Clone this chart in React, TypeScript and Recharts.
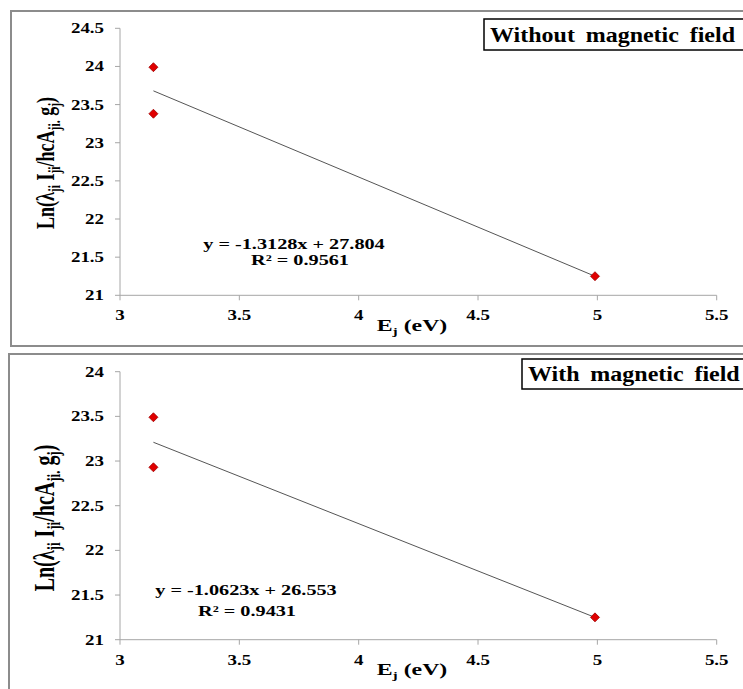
import { ScatterChart, Scatter, XAxis, YAxis } from 'recharts';

const xTicks = [3, 3.5, 4, 4.5, 5, 5.5];
const yTicksTop = [21, 21.5, 22, 22.5, 23, 23.5, 24, 24.5];
const yTicksBottom = [21, 21.5, 22, 22.5, 23, 23.5, 24];

// measured points, E_j (eV) vs Ln(...)
const energyTop = [3.14, 3.14, 4.99];
const lnTop = [23.99, 23.38, 21.25];
const energyBottom = [3.14, 3.14, 4.99];
const lnBottom = [23.49, 22.93, 21.25];

// linear trendline ends
const fitXTop = [3.14, 4.99];
const fitYTop = [23.68, 21.25];
const fitXBottom = [3.14, 4.99];
const fitYBottom = [23.21, 21.25];

const pairs = (xs: number[], ys: number[]) => xs.map((x, i) => ({ x, y: ys[i] }));

const axisColor = '#a6a6a6';
const serif = { fontFamily: "'Liberation Serif', 'Times New Roman', serif", fontWeight: 700 };

const Diamond = (props: any) => {
  const { cx, cy } = props;
  if (cx == null || cy == null) return <g />;
  const r = 4.5;
  return (
    <polygon
      points={`${cx},${cy - r} ${cx + r},${cy} ${cx},${cy + r} ${cx - r},${cy}`}
      fill="#e00000"
      stroke="#a00000"
      strokeWidth={0.8}
    />
  );
};

const YTick = (props: any) => {
  const { x, y, payload } = props;
  return (
    <g transform={`translate(${x},${y})`}>
      <text transform="scale(1.35,1)" textAnchor="end" dy={5} style={serif} fontSize={14} fill="#000">
        {payload.value}
      </text>
    </g>
  );
};

const XTick = (props: any) => {
  const { x, y, payload } = props;
  return (
    <g transform={`translate(${x},${y})`}>
      <text transform="scale(1.35,1)" textAnchor="middle" dy={10} style={serif} fontSize={14} fill="#000">
        {payload.value}
      </text>
    </g>
  );
};

function Panel({ height, top, bottom, yTicks, points, fit }: any) {
  const yMax = yTicks[yTicks.length - 1];
  return (
    <ScatterChart width={743} height={height} margin={{ top, right: 26.3, bottom, left: 60 }}>
      <XAxis
        type="number"
        dataKey="x"
        domain={[3, 5.5]}
        ticks={xTicks}
        allowDataOverflow
        height={30}
        stroke={axisColor}
        tickSize={5}
        tickMargin={10}
        tick={<XTick />}
      />
      <YAxis
        type="number"
        dataKey="y"
        domain={[21, yMax]}
        ticks={yTicks}
        allowDataOverflow
        width={60}
        stroke={axisColor}
        tickSize={5}
        tickMargin={11}
        tick={<YTick />}
      />
      <Scatter data={fit} line={{ stroke: '#555', strokeWidth: 1 }} shape={() => <g />} isAnimationActive={false} />
      <Scatter data={points} shape={Diamond} isAnimationActive={false} />
    </ScatterChart>
  );
}

function YLabel({ x, y, size }: any) {
  const sub = { fontSize: size * 0.65 };
  return (
    <text transform={`translate(${x},${y}) rotate(-90) scale(1,1.45)`} textAnchor="middle" style={serif} fontSize={size} fill="#000">
      Ln(λ<tspan dy={4} {...sub}>ji</tspan>
      <tspan dy={-4}> I</tspan>
      <tspan dy={4} {...sub}>ji</tspan>
      <tspan dy={-4}>/hcA</tspan>
      <tspan dy={4} {...sub}>ji.</tspan>
      <tspan dy={-4}> g</tspan>
      <tspan dy={4} {...sub}>j</tspan>
      <tspan dy={-4}>)</tspan>
    </text>
  );
}

function XLabel({ x, y }: any) {
  return (
    <text transform={`translate(${x},${y}) scale(1.4,1)`} textAnchor="middle" style={serif} fontSize={17} fill="#000">
      E<tspan dy={4} fontSize={11}>j</tspan>
      <tspan dy={-4}> (eV)</tspan>
    </text>
  );
}

function Note({ x, y, children }: any) {
  return (
    <text transform={`translate(${x},${y}) scale(1.35,1)`} textAnchor="middle" style={serif} fontSize={15} fill="#000">
      {children}
    </text>
  );
}

function Title({ x, y, w, h, text, baseline }: any) {
  return (
    <g>
      <rect x={x} y={y} width={w} height={h} fill="#fff" stroke="#000" strokeWidth={1.5} />
      <text transform={`translate(${x + 6},${baseline}) scale(1.2,1)`} style={serif} fontSize={20} wordSpacing={4} fill="#000">
        {text}
      </text>
    </g>
  );
}

export default function App() {
  return (
    <div style={{ position: 'absolute', left: 0, top: 0, width: 743, height: 689, background: '#fff', overflow: 'hidden' }}>
      <div style={{ position: 'absolute', left: 10, top: 10, width: 760, height: 333, border: '2px solid #8c8c8c' }} />
      <div style={{ position: 'absolute', left: 8, top: 353, width: 760, height: 360, border: '2px solid #8c8c8c' }} />
      <div style={{ position: 'absolute', left: 0, top: 0 }}>
        <Panel height={350} top={28.3} bottom={24.7} yTicks={yTicksTop} points={pairs(energyTop, lnTop)} fit={pairs(fitXTop, fitYTop)} />
      </div>
      <div style={{ position: 'absolute', left: 0, top: 345 }}>
        <Panel height={344} top={26.7} bottom={19.3} yTicks={yTicksBottom} points={pairs(energyBottom, lnBottom)} fit={pairs(fitXBottom, fitYBottom)} />
      </div>
      <svg width={743} height={689} style={{ position: 'absolute', left: 0, top: 0, pointerEvents: 'none' }}>
        <Title x={484} y={19} w={270} h={31} baseline={41.5} text="Without magnetic field" />
        <Title x={522} y={359} w={230} h={30} baseline={380.5} text="With magnetic field" />
        <Note x={294} y={249}>y = -1.3128x + 27.804</Note>
        <Note x={300} y={265}>R² = 0.9561</Note>
        <Note x={246} y={595}>y = -1.0623x + 26.553</Note>
        <Note x={247} y={616}>R² = 0.9431</Note>
        <YLabel x={54} y={163} size={18} />
        <YLabel x={54} y={518} size={20} />
        <XLabel x={412} y={331} />
        <XLabel x={412} y={675} />
      </svg>
    </div>
  );
}
